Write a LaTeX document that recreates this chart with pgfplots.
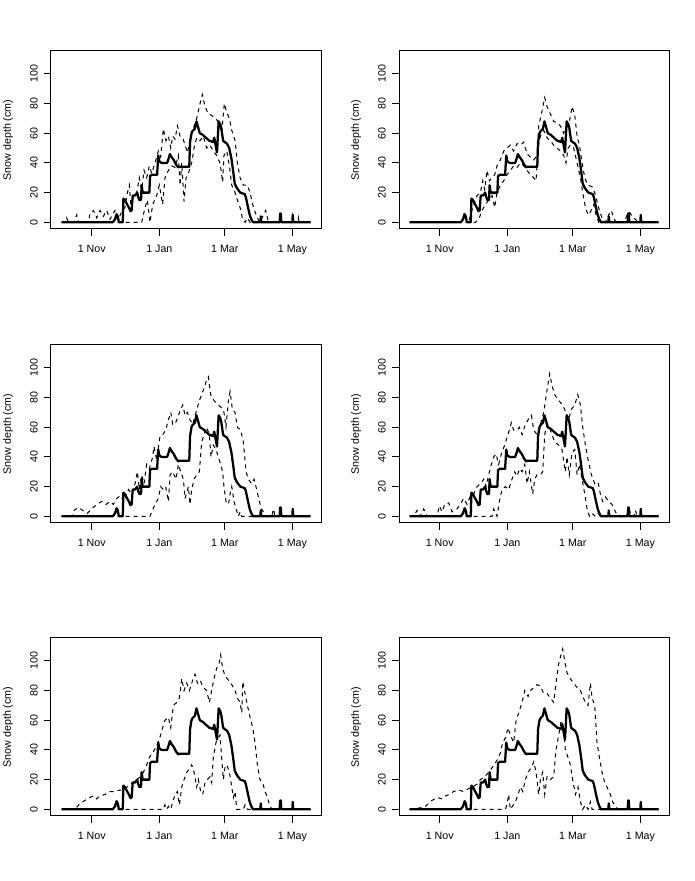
\documentclass[border=0pt]{standalone}
\usepackage{fontspec}
\setmainfont{Liberation Sans}
\usepackage{pgfplots}
\usepackage{pgfplotstable}
\pgfplotsset{compat=1.18}

% observed snow depth (days since 1 Oct, cm)
\pgfplotstableread{
day depth
3.9 0
50 0
52 2
53.5 5.5
54.5 4
55.5 0
59 0
59.6 16
61 15
63 12
64.5 10
66 7.5
67 8
68 18
70 18
72 20
73 17
74 15
75.5 15
76 25
77 20
83 20
83.6 31
85 32
90 32
91 45
92 41
94 40
99 40
100 42
101.5 46
103 44
105 42
107 39
109 37
110 37.5
119 37.5
119.7 54
121 60
122 61.5
124 63
125.5 68
127 64
128.5 60
131 59
134 57
137 55
139 54.5
140.5 54
141.5 57
143 51
144 47
145.5 68
147 66
148 63
149.5 55
151 54
153 53
155 50
157 43
158.5 35
160 26
162 23
165 20
169 19
170 17
172 10
173.5 5
175 2
176.5 0
183 0
183.5 4
184 0
200.5 0
201 6
201.5 6
202 0
212 0
212.3 5
212.8 0
228.5 0
}\observed

\pgfplotsset{
  panel/.style={
    scale only axis, width=202.5pt, height=133.5pt, anchor=south west,
    xmin=-5.7, xmax=237.8, ymin=-4.5, ymax=115.4,
    axis line style={line width=0.75pt},
    xtick={31,92,151,212}, xticklabels={1 Nov,1 Jan,1 Mar,1 May},
    ytick={0,20,40,60,80,100},
    tick align=outside, xtick pos=bottom, ytick pos=left,
    major tick length=5.25pt,
    tick style={line width=0.75pt, black},
    ticklabel style={font=\fontsize{8}{9.6}\selectfont, inner sep=0pt},
    xticklabel style={anchor=north},
    yticklabel style={rotate=90, anchor=south},
    xticklabel shift=6.4pt, yticklabel shift=4.5pt,
    /pgf/number format/assume math mode=true,
    ylabel={Snow depth (cm)},
    every axis y label/.style={at={([xshift=-28.3pt]axis description cs:0,0.5)},
      rotate=90, anchor=south, inner sep=0pt, font=\fontsize{8}{9.6}\selectfont},
  },
  obs/.style={black, line width=1.7pt, line join=round},
  band/.style={black, line width=0.75pt, dash pattern=on 3pt off 3pt},
}

\begin{document}
\begin{tikzpicture}
\path[use as bounding box] (0,0) rectangle (521.25pt,660.75pt);

% ---- row 1, left
\begin{axis}[panel, at={(38.25pt,489pt)}]
\addplot[obs] table[x=day,y=depth] {\observed};
\addplot[band] coordinates {(3.9,0) (6.9,0) (8.45,3) (10,0) (15,0) (17.5,5) (19,0) (28,0) (29.5,6) (32.5,8) (35.5,3) (38.5,8) (41.5,4) (44.5,8) (47.5,2) (50.5,6) (52,8) (55,2) (58,7) (61,10) (63.2,20) (65,25) (66.2,12) (68.6,17) (71.6,20) (74,30) (76.1,22) (78.2,35) (80.6,30) (83,38) (85.1,33) (88.1,40) (91.1,48) (93.2,44) (95.6,63) (98,55) (100.2,58) (102.3,50) (104.1,58) (106.2,56) (108.3,65) (110.7,58) (113.1,57) (115.2,52) (117.3,47) (119.7,55) (122.1,62) (125.7,70) (128.7,80) (130.8,86) (133.2,78) (136.2,73) (139.2,72) (142.2,70) (145.2,68) (148.2,60) (150.6,80) (152.8,74) (155.2,70) (157.3,62) (160.3,55) (162.4,40) (164.8,30) (167.8,25) (171.4,25) (173.8,20) (176.2,12) (178.3,7) (180.4,3) (182.8,0) (185.8,5) (187.9,8) (190.4,0) (200.3,0) (200.9,5) (201.5,0) (211.7,0) (212.3,4) (212.9,0) (216.8,0) (217.4,3) (218,0) (228.5,0)};
\addplot[band] coordinates {(3.9,0) (76.1,0) (77.6,5) (79.1,10) (81.2,15) (83.6,0) (86,12) (89.6,18) (92,25) (95,12) (97.1,30) (100.2,35) (103.2,38) (106.2,37) (109.2,45) (110.7,25) (112.2,40) (114.3,14) (116.1,30) (118.2,33) (121.2,40) (123.3,50) (125.7,57) (128.7,55) (131.7,58) (134.7,50) (137.7,52) (140.7,48) (143.7,45) (146.7,40) (149.1,27) (150.3,45) (152.8,48) (155.2,38) (157.3,25) (160.3,20) (162.4,15) (164.8,10) (166.9,3) (169.3,0) (171.4,3) (173.8,0) (228.5,0)};
\end{axis}

% ---- row 1, right
\begin{axis}[panel, at={(299.25pt,489pt)}]
\addplot[obs] table[x=day,y=depth] {\observed};
\addplot[band] coordinates {(3.9,0) (51.1,0) (52.6,5) (55.7,0) (57,0) (60.1,8) (61.7,12) (64.7,18) (67.7,20) (69.8,28) (71.6,22) (73.7,35) (75.8,28) (78.2,30) (80.6,32) (82.7,38) (85.7,42) (88.7,48) (91.7,50) (94.7,52) (97.7,48) (100.8,53) (103.8,52) (106.8,54) (109.8,46) (112.8,44) (115.8,42) (118.8,45) (120.3,65) (123.3,75) (125.7,84) (127.8,78) (130.8,73) (133.8,68) (136.8,67) (139.8,65) (142.8,60) (145.9,66) (148,68) (150.4,78) (152.8,72) (154.9,58) (157,52) (159.4,40) (161.8,30) (164.8,25) (168.4,24) (170.8,20) (172.9,14) (175,8) (177.4,3) (180.4,0) (183.4,5) (185.8,8) (187.9,3) (190,0) (197.5,0) (199.9,5) (202.1,7) (204.5,4) (207.5,2) (209.9,0) (228.5,0)};
\addplot[band] coordinates {(3.9,0) (63.2,0) (66.2,2) (69.2,8) (72.2,12) (75.2,15) (78.2,18) (80.6,10) (82.7,20) (85.7,25) (88.7,28) (91.7,32) (94.7,35) (97.7,38) (100.8,37) (103.8,40) (106.8,38) (109.8,35) (112.8,32) (115.8,30) (117.9,28) (119.7,50) (121.8,58) (124.8,62) (127.8,57) (130.8,55) (133.8,52) (136.8,50) (139.8,48) (142.8,45) (144.9,40) (146.8,50) (148.9,52) (151.9,50) (154.9,40) (157.9,30) (160,20) (162.4,10) (164.8,5) (166.9,7) (169.9,12) (172,5) (174.4,0) (228.5,0)};
\end{axis}

% ---- row 2, left
\begin{axis}[panel, at={(38.25pt,268.5pt)}]
\addplot[obs] table[x=day,y=depth] {\observed};
\addplot[band] coordinates {(3.9,0) (12.96,0) (15.1,4) (19,6) (22.9,4) (27.1,2) (31,5) (35.5,8) (40,10) (43.9,8) (47.5,10) (50.5,8) (53.5,12) (57.1,14) (60.1,10) (64.1,18) (67.1,15) (70.1,22) (72.2,30) (74,18) (76.1,28) (78.2,22) (80.6,35) (83,32) (86,40) (87.2,47) (89.6,38) (92.6,54) (95,55) (97.7,58) (100.2,65) (102.3,70) (104.1,62) (106.2,62) (109.2,68) (111.3,72) (113.1,75) (115.2,68) (117.3,70) (119.7,65) (122.1,62) (125.1,70) (128.1,78) (131.7,85) (134.7,92) (136.2,94) (138.3,82) (141.3,78) (145.2,75) (148.2,73) (150.3,70) (152.1,60) (154.3,78) (155.8,84) (157.9,72) (160.3,70) (162.4,60) (165.4,58) (167.8,50) (170.2,30) (172.3,25) (175.3,22) (177.4,25) (179.8,18) (182.2,10) (184.3,5) (185.8,3) (188.9,0) (193.4,0) (194.9,5) (196.4,0) (200,0) (201.5,5) (203.3,0) (228.5,0)};
\addplot[band] coordinates {(3.9,0) (83.6,0) (85.1,3) (88.1,8) (91.1,12) (93.2,20) (95.6,18) (97.7,20) (100.2,10) (101.7,28) (104.1,30) (107.1,25) (109.2,35) (111.3,30) (113.7,25) (115.2,12) (118.2,20) (119.7,8) (121.2,18) (123.3,25) (125.7,28) (128.1,30) (130.2,50) (132.3,55) (134.7,60) (137.1,55) (138.6,40) (140.7,48) (143.1,45) (145.2,40) (147.3,35) (149.1,30) (150.3,20) (152.1,10) (154.3,8) (155.8,15) (157.3,20) (159.4,10) (161.2,5) (163.3,0) (164.8,3) (166.3,0) (228.5,0)};
\end{axis}

% ---- row 2, right
\begin{axis}[panel, at={(299.25pt,268.5pt)}]
\addplot[obs] table[x=day,y=depth] {\observed};
\addplot[band] coordinates {(3.9,0) (7.55,0) (10.55,4) (13.56,0) (16.56,5) (19.57,0) (28.6,0) (30.7,7) (33.1,3) (35.5,8) (39.1,9) (42.1,3) (46.6,5) (49.6,8) (52.6,12) (55.7,8) (58.7,14) (61.7,15) (64.7,20) (67.7,22) (70.7,25) (72.8,20) (75.2,28) (77.6,35) (79.7,40) (81.8,42) (84.2,35) (86.6,42) (89.6,48) (92.6,55) (95.6,63) (97.7,58) (100.8,58) (102.9,60) (105.3,55) (108.3,62) (110.7,65) (113.7,68) (115.8,58) (118.8,55) (121.8,62) (124.8,70) (127.8,85) (130.2,96) (132.3,88) (134.7,82) (138.3,78) (141.9,75) (144.9,70) (147.3,65) (149.7,72) (152.8,75) (155.5,82) (157.9,75) (160,60) (162.4,48) (164.8,38) (167.8,28) (170.8,22) (173.8,23) (175.9,15) (178,10) (180.4,13) (183.4,10) (186.4,8) (189.5,3) (191.9,0) (199.5,0) (201.5,5) (204.5,0) (206,0) (207.5,4) (209,0) (228.5,0)};
\addplot[band] coordinates {(3.9,0) (78.2,0) (79.7,5) (82.7,0) (84.8,10) (87.2,18) (90.2,20) (93.2,18) (96.2,25) (98.65,30) (100.8,27) (102.9,32) (105.3,30) (107.7,35) (109.8,22) (111.9,30) (114.9,15) (116.7,25) (118.8,28) (121.8,28) (123.9,30) (125.7,55) (127.8,62) (129.9,60) (132.3,55) (134.7,50) (138.3,48) (141.3,45) (144.3,30) (145.8,40) (147.9,28) (150.3,43) (152.8,45) (154.9,28) (157,35) (159.4,25) (161.8,15) (163.9,5) (166,0) (168.4,2) (171.4,0) (173.8,2) (175.9,0) (228.5,0)};
\end{axis}

% ---- row 3, left
\begin{axis}[panel, at={(38.25pt,48.75pt)}]
\addplot[obs] table[x=day,y=depth] {\observed};
\addplot[band] coordinates {(3.9,0) (16,0) (18.1,2) (20.5,4) (25,6) (29.5,8) (32.5,9) (35.5,7) (38.5,9) (43,10) (47.5,12) (52,12) (56.5,13) (60.1,13) (64.1,16) (68,18) (71.6,20) (75.2,22) (77.6,25) (80.6,30) (83,35) (86,38) (89,42) (92,47) (95,55) (97.1,60) (100.2,62) (102.3,55) (104.7,70) (107.7,72) (110.1,75) (112.2,88) (114.3,80) (116.7,85) (119.1,80) (122.1,87) (124.2,91) (126.3,85) (128.7,87) (131.7,82) (134.7,80) (137.1,72) (139.2,80) (141.3,88) (143.7,95) (145.8,98) (147.3,104) (149.1,95) (151.2,90) (154.3,87) (157.3,84) (160.3,80) (162.4,75) (164.8,72) (166.3,65) (167.2,86) (169.3,78) (171.4,70) (173.8,62) (176.2,55) (178.3,45) (180.4,30) (182.8,20) (185.2,18) (187.3,12) (189.5,8) (191.3,3) (193.4,0) (228.5,0)};
\addplot[band] coordinates {(3.9,0) (95.6,0) (97.1,3) (98.6,0) (100.2,2) (102.3,0) (104.1,5) (106.2,10) (108.3,12) (110.1,3) (112.2,15) (114.3,20) (116.7,25) (119.1,27) (121.2,30) (123.3,25) (125.7,15) (127.2,20) (129.3,12) (131.1,10) (133.2,18) (135.3,20) (137.7,22) (139.2,18) (140.7,35) (143.1,45) (145.2,48) (146.7,50) (148.2,35) (149.7,20) (151.2,28) (152.8,30) (155.2,25) (157.3,15) (158.8,8) (160.3,12) (161.8,0) (167.8,0) (169.3,3) (171.4,0) (228.5,0)};
\end{axis}

% ---- row 3, right
\begin{axis}[panel, at={(299.25pt,48.75pt)}]
\addplot[obs] table[x=day,y=depth] {\observed};
\addplot[band] coordinates {(3.9,0) (4.5,0) (13.6,1) (18.1,2) (21.1,4) (24.1,6) (28.6,8) (33.1,7) (36.1,9) (39.7,10) (43.6,12) (48.1,13) (52.6,12) (57.1,14) (60.7,15) (64.7,17) (67.7,20) (71.6,22) (75.2,25) (78.2,28) (82.7,33) (85.7,38) (87.8,45) (90.2,48) (92.6,55) (94.7,50) (97.7,45) (99.9,60) (102.3,65) (105.3,72) (107.7,80) (110.7,76) (112.8,80) (115.8,82) (118.8,84) (121.8,83) (124.8,78) (127.8,78) (130.8,75) (133.8,72) (135.9,85) (138.3,98) (140.7,105) (141.9,108) (143.7,100) (145.8,92) (148.8,88) (151.8,85) (154.9,82) (157.9,80) (160,76) (162.4,72) (164.8,70) (166.9,85) (168.4,75) (170.8,70) (172.9,45) (175,35) (177.4,25) (179.8,18) (181.9,15) (184.9,10) (187,5) (189.5,2) (191.9,0) (228.5,0)};
\addplot[band] coordinates {(3.9,0) (90.2,0) (91.7,3) (93.2,10) (94.7,0) (96.5,2) (99.3,5) (101.7,10) (103.8,15) (105.9,12) (108.3,20) (110.7,25) (113.7,28) (115.8,32) (117.9,25) (120.3,10) (121.8,20) (123.9,25) (125.7,10) (127.8,22) (130.8,20) (133.8,22) (135.9,40) (138.3,50) (140.7,60) (142.8,55) (144.3,40) (146.7,35) (148.8,30) (150.9,20) (153.4,10) (155.8,15) (157.9,5) (160,0) (162.4,3) (164.8,0) (166.9,5) (168.4,0) (228.5,0)};
\end{axis}
\end{tikzpicture}
\end{document}
